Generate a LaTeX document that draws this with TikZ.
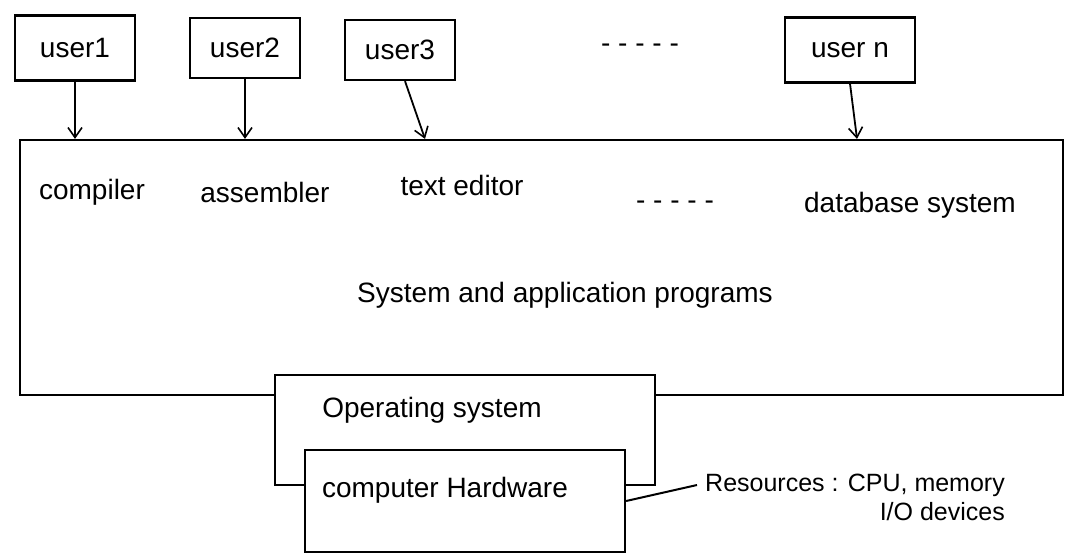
\documentclass[tikz,border=0pt]{standalone}
\usepackage{fontspec}
\setmainfont{Liberation Sans}
\usetikzlibrary{arrows.meta}
\begin{document}
\begin{tikzpicture}[x=1pt,y=-1pt,
  box/.style={draw=black,line width=2.2pt,fill=white,inner sep=0pt},
  lbl/.style={font=\fontsize{28}{32}\selectfont,inner sep=0pt},
  small/.style={font=\fontsize{25}{29}\selectfont,inner sep=0pt},
  arr/.style={-{Straight Barb[length=10pt,width=14pt,line width=1.6pt]},line width=1.8pt}]
\useasboundingbox[fill=white] (0,0) rectangle (1068,555);
% users
\node[box,minimum width=120pt,minimum height=65pt,lbl] (u1) at (75,48) {user1};
\node[box,minimum width=110pt,minimum height=60pt,lbl] (u2) at (245,48) {user2};
\node[box,minimum width=110pt,minimum height=60pt,lbl] (u3) at (400,50) {user3};
\node[lbl] (ud) at (640,48) {- - - - -};
\node[box,minimum width=130pt,minimum height=65pt,lbl] (un) at (850,50) {user n};
% big box
\node[box,minimum width=1043pt,minimum height=255pt] (big) at (541.5,267.5) {};
\node[lbl] (comp) at (92,192) {compiler};
\node[lbl] (asm) at (265,192) {assembler};
\node[lbl] (ted) at (462,185) {text editor};
\node[lbl] (bd) at (675,205) {- - - - -};
\node[lbl] (dbs) at (910,205) {database system};
\node[lbl] (sap) at (565,295) {System and application programs};
% OS and hardware
\node[box,minimum width=380pt,minimum height=110pt] (os) at (465,430) {};
\node[lbl] (ostxt) at (432,410) {Operating system};
\node[box,minimum width=320pt,minimum height=102pt] (hw) at (465,501) {};
\node[lbl] (hwtxt) at (445,490) {computer Hardware};
\node[small,anchor=west] (res) at (705,485) {Resources : CPU, memory};
\node[small,anchor=north east] (io) at (res.south east) [yshift=-6pt] {I/O devices};
% connectors
\draw[arr] (u1.south) -- (u1.south |- big.north);
\draw[arr] (u2.south) -- (u2.south |- big.north);
\draw[arr] ([xshift=5pt]u3.south) -- ([xshift=25pt]u3.south |- big.north);
\draw[arr] (un.south) -- ([xshift=7pt]un.south |- big.north);
\draw[line width=2pt] (hw.east) -- ([xshift=-8pt]res.west);
\end{tikzpicture}
\end{document}
